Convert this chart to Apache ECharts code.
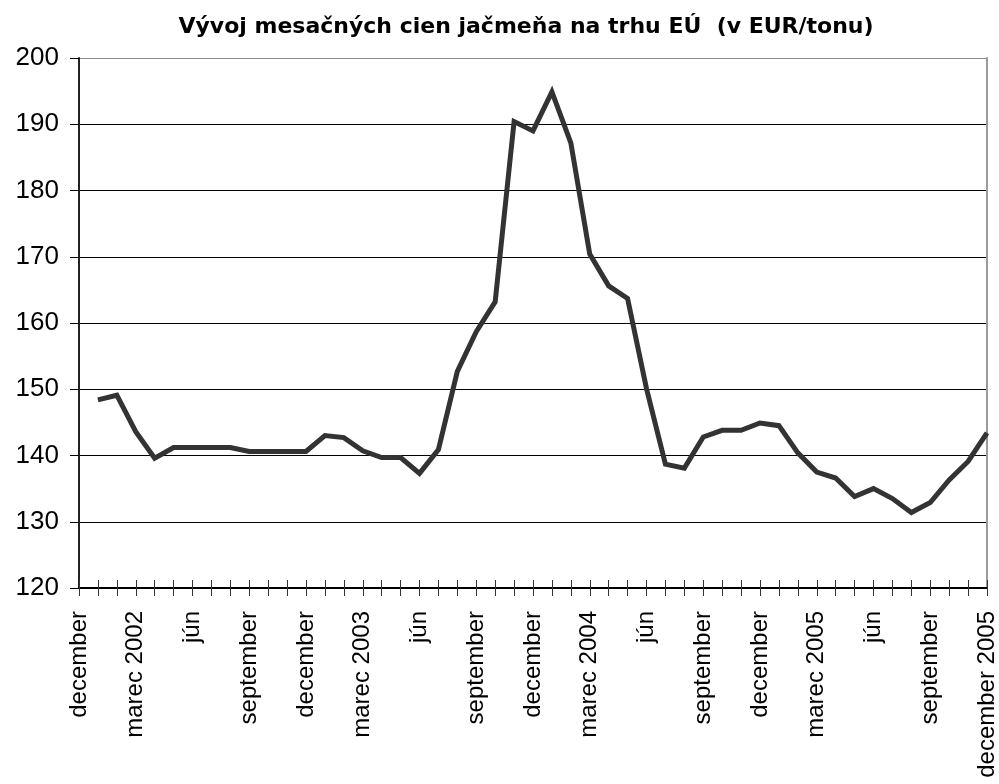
<!DOCTYPE html>
<html><head><meta charset="utf-8">
<script src="https://cdn.jsdelivr.net/npm/echarts@6/dist/echarts.min.js"></script>
<style>html,body{margin:0;padding:0;background:#fff}#c{width:999px;height:784px}</style>
</head><body><div id="c"></div>
<script>
var titleText = 'Vývoj mesačných cien jačmeňa na trhu EÚ  (v EUR/tonu)';
var categories = [
 'december','január','február','marec 2002','apríl','máj','jún','júl','august','september','október','november',
 'december','január','február','marec 2003','apríl','máj','jún','júl','august','september','október','november',
 'december','január','február','marec 2004','apríl','máj','jún','júl','august','september','október','november',
 'december','január','február','marec 2005','apríl','máj','jún','júl','august','september','október','november',
 'december 2005'
];
var prices = [
 null,
 148.4,149.1,143.6,139.6,141.2,141.2,141.2,141.2,140.6,140.6,140.6,140.6,
 143.0,142.7,140.7,139.7,139.7,137.3,140.9,152.7,158.7,163.2,190.4,189.0,
 194.9,187.2,170.4,165.6,163.7,150.1,138.7,138.1,142.8,143.8,143.8,144.9,
 144.5,140.4,137.5,136.6,133.8,135.0,133.5,131.4,132.9,136.3,139.1,143.4
];
var yMin = 120, yMax = 200, yStep = 10;

var chart = echarts.init(document.getElementById('c'));
var splitColors = [];
for (var v = yMin; v <= yMax; v += yStep) splitColors.push(v === yMax ? '#8c8c8c' : '#000');
chart.setOption({
  animation: false,
  title: {
    text: titleText, left: 521, top: 11, textAlign: 'center',
    textStyle: { fontFamily: 'DejaVu Sans, sans-serif', fontSize: 22, fontWeight: 'bold', color: '#000' }
  },
  grid: { left: 79, right: 9, top: 58, bottom: 196, containLabel: false },
  xAxis: [{
    type: 'category', data: categories, boundaryGap: false,
    axisLine: { lineStyle: { color: '#000', width: 2 } },
    axisTick: { show: true, interval: 0, length: 8, lineStyle: { color: '#333', width: 1 } },
    axisLabel: { interval: 2, rotate: 90, margin: 23, color: '#000',
      fontFamily: 'Liberation Sans, Arial, sans-serif', fontSize: 24 },
    splitLine: { show: false }
  }, {
    type: 'category', data: categories, boundaryGap: false, position: 'bottom',
    axisLine: { show: false },
    axisTick: { show: true, inside: true, interval: 0, length: 8, lineStyle: { color: '#333', width: 1 } },
    axisLabel: { show: false }, splitLine: { show: false }
  }],
  yAxis: [{
    type: 'value', min: yMin, max: yMax, interval: yStep,
    axisLine: { show: true, lineStyle: { color: '#222', width: 2 } },
    axisTick: { show: true, length: 9, lineStyle: { color: '#000', width: 1 } },
    axisLabel: { margin: 20, color: '#000', fontFamily: 'Liberation Sans, Arial, sans-serif', fontSize: 26 },
    splitLine: { show: true, lineStyle: { color: splitColors, width: 1 } }
  }, {
    type: 'value', min: yMin, max: yMax, interval: yStep, position: 'right',
    axisLine: { show: true, lineStyle: { color: '#9a9a9a', width: 2 } },
    axisTick: { show: false }, axisLabel: { show: false }, splitLine: { show: false }
  }],
  series: [{
    type: 'line', data: prices, xAxisIndex: 0, yAxisIndex: 0,
    showSymbol: false, symbol: 'none', connectNulls: false,
    lineStyle: { color: '#333333', width: 5, join: 'miter' }
  }]
});
</script></body></html>
